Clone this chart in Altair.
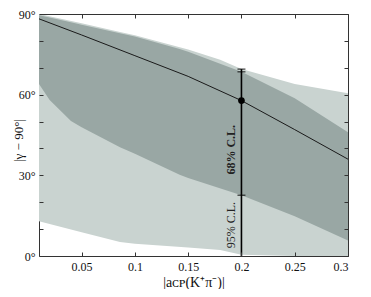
import altair as alt
import pandas as pd

# 95% C.L. band
x95 = [0.01, 0.05, 0.086, 0.1, 0.15, 0.18, 0.2, 0.25, 0.3]
lo95 = [12.9, 8.8, 5.2, 4.6, 3.2, 2.2, 0.5, 0.0, 0.0]
hi95 = [90.0, 86.6, 83.3, 82.1, 76.8, 73.0, 69.5, 64.0, 60.5]

# 68% C.L. band
x68 = [0.01, 0.02, 0.04, 0.05, 0.086, 0.1, 0.142, 0.15, 0.2, 0.25, 0.3]
lo68 = [64.0, 58.0, 50.2, 47.9, 40.4, 38.0, 30.2, 29.0, 22.6, 14.8, 5.8]
hi68 = [89.5, 88.7, 86.9, 86.0, 82.8, 81.6, 77.0, 76.0, 68.5, 58.7, 46.0]

# central curve
xc = [0.01, 0.05, 0.1, 0.15, 0.2, 0.25, 0.3]
yc = [88.2, 82.2, 74.5, 66.8, 57.8, 47.0, 36.0]

# measurement at a_CP = 0.2
meas_x = [0.2]
meas_y = [57.8]
cl95 = [0.0, 69.5]
cl68 = [22.6, 68.5]
cap_vals = [69.5, 68.5, 22.6]
labels = ["68% C.L.", "95% C.L."]
label_y = [39.5, 11.5]

x_ticks = [0.05, 0.1, 0.15, 0.2, 0.25, 0.3]
y_ticks = [0, 10, 20, 30, 40, 50, 60, 70, 80, 90]

LIGHT = "#c9d3d0"
DARK = "#99a7a4"
INK = "#1a1a1a"
FONT = "Liberation Serif"

xs = alt.Scale(domain=[0.01, 0.3], nice=False, zero=False)
ys = alt.Scale(domain=[0, 90], nice=False, zero=False)

common = dict(domain=False, offset=-4, tickSize=4, tickColor="#333", tickWidth=1,
              grid=False, zindex=1, labelFont=FONT, labelFontSize=12,
              labelColor="#111", titleFont=FONT,
              titleFontWeight="normal", titleColor="#111")

ax_bottom = alt.Axis(orient="bottom", values=x_ticks, labelExpr="toString(datum.value)",
                     labelPadding=5, title="|aᴄᴘ(K⁺π⁻)|", titlePadding=3,
                     titleFontSize=14, **common)
ax_left = alt.Axis(orient="left", values=y_ticks,
                   labelExpr="datum.value % 30 == 0 ? datum.value + '°' : ''",
                   labelPadding=4, title="|γ − 90°|", titleX=-25, titleY=126,
                   titleFontSize=13,
                   titleAngle=270, titleAlign="center", titleBaseline="middle", **common)
ax_top = alt.Axis(orient="top", values=x_ticks, labels=False, title=None,
                  domain=False, offset=-4, tickSize=4, tickColor="#333", grid=False, zindex=1)
ax_right = alt.Axis(orient="right", values=y_ticks, labels=False, title=None,
                    domain=False, offset=-4, tickSize=4, tickColor="#333", grid=False, zindex=1)

df95 = pd.DataFrame({"x": x95, "lo": lo95, "hi": hi95})
df68 = pd.DataFrame({"x": x68, "lo": lo68, "hi": hi68})
dfc = pd.DataFrame({"x": xc, "y": yc})
dfm = pd.DataFrame({"x": meas_x, "y": meas_y})
dfr = pd.DataFrame({"x": meas_x, "y": [cl95[0]], "y2": [cl95[1]]})
dfcap = pd.DataFrame({"x": [0.2] * len(cap_vals), "y": cap_vals})
dft = pd.DataFrame({"x": [0.2, 0.2], "y": label_y, "t": labels})

light = alt.Chart(df95).mark_area(color=LIGHT, opacity=1).encode(
    x=alt.X("x:Q", scale=xs, axis=ax_bottom),
    y=alt.Y("lo:Q", scale=ys, axis=ax_left),
    y2="hi:Q",
)
dark = alt.Chart(df68).mark_area(color=DARK, opacity=1).encode(
    x=alt.X("x:Q", scale=xs, axis=ax_top),
    y=alt.Y("lo:Q", scale=ys, axis=ax_right),
    y2="hi:Q",
)
line = alt.Chart(dfc).mark_line(color=INK, strokeWidth=1).encode(
    x=alt.X("x:Q", scale=xs, axis=None),
    y=alt.Y("y:Q", scale=ys, axis=None),
)
rule = alt.Chart(dfr).mark_rule(color="#000", strokeWidth=1.6).encode(
    x=alt.X("x:Q", scale=xs, axis=None),
    y=alt.Y("y:Q", scale=ys, axis=None),
    y2="y2:Q",
)
caps = alt.Chart(dfcap).mark_tick(orient="horizontal", size=8, thickness=1.3, color="#000").encode(
    x=alt.X("x:Q", scale=xs, axis=None),
    y=alt.Y("y:Q", scale=ys, axis=None),
)
point = alt.Chart(dfm).mark_point(filled=True, color="#000", opacity=1, size=45, shape="circle").encode(
    x=alt.X("x:Q", scale=xs, axis=None),
    y=alt.Y("y:Q", scale=ys, axis=None),
)
txt68 = alt.Chart(dft.iloc[[0]]).mark_text(angle=270, baseline="bottom", align="center",
                                           font=FONT, fontSize=12, fontWeight="bold",
                                           color="#222", dy=-3).encode(
    x=alt.X("x:Q", scale=xs, axis=None),
    y=alt.Y("y:Q", scale=ys, axis=None),
    text="t:N",
)
txt95 = alt.Chart(dft.iloc[[1]]).mark_text(angle=270, baseline="bottom", align="center",
                                           font=FONT, fontSize=12, color="#222", dy=-3).encode(
    x=alt.X("x:Q", scale=xs, axis=None),
    y=alt.Y("y:Q", scale=ys, axis=None),
    text="t:N",
)

chart = alt.layer(light, dark, line, rule, caps, point, txt68, txt95).resolve_axis(
    x="independent", y="independent"
).properties(
    width=309, height=242,
    padding={"left": 31, "top": 6, "right": 15, "bottom": 33},
    autosize=alt.AutoSizeParams(type="none"),
    background="white",
).configure_view(stroke="#333", strokeWidth=1)

chart.save("out.html", embed_options={"renderer": "svg", "actions": False})
